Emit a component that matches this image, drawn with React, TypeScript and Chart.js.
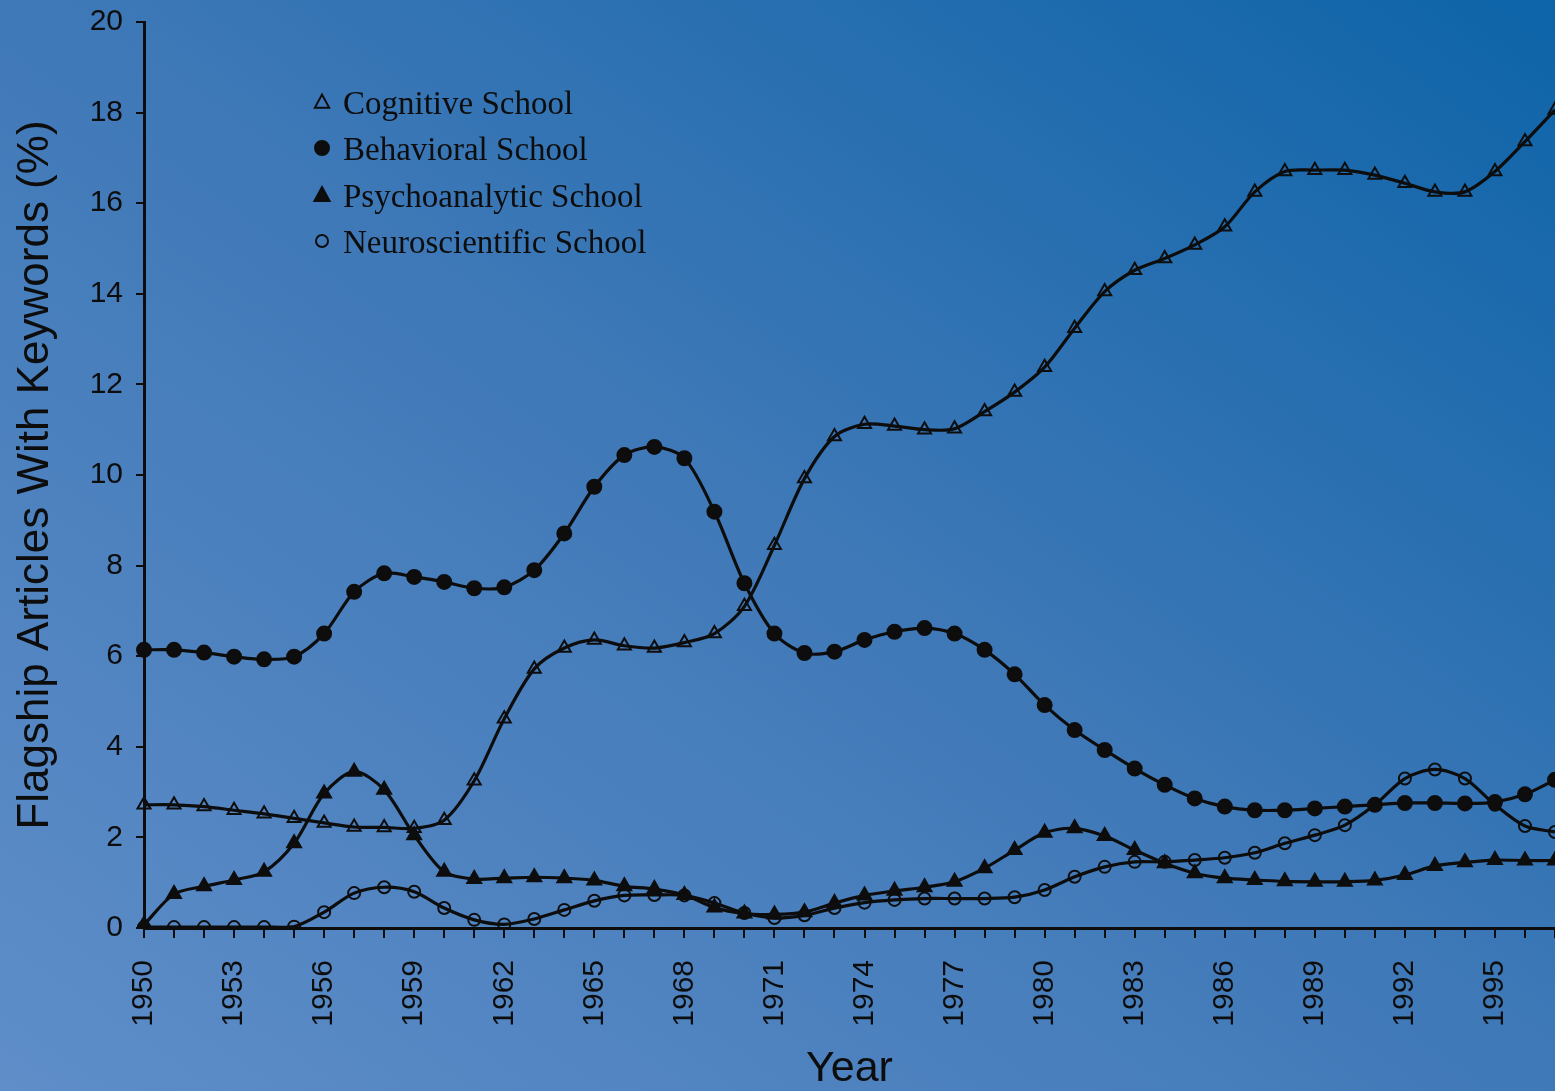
import React, { useEffect, useRef } from 'react';
import { Chart, registerables } from 'chart.js';

Chart.register(...registerables);

const years = [
  '1950', '1951', '1952', '1953', '1954', '1955', '1956', '1957', '1958', '1959',
  '1960', '1961', '1962', '1963', '1964', '1965', '1966', '1967', '1968', '1969',
  '1970', '1971', '1972', '1973', '1974', '1975', '1976', '1977', '1978', '1979',
  '1980', '1981', '1982', '1983', '1984', '1985', '1986', '1987', '1988', '1989',
  '1990', '1991', '1992', '1993', '1994', '1995', '1996', '1997',
];

const cognitive = [
  2.72, 2.72, 2.68, 2.6, 2.52, 2.42, 2.32, 2.23, 2.22, 2.2,
  2.38, 3.25, 4.62, 5.72, 6.18, 6.36, 6.23, 6.18, 6.3, 6.5,
  7.1, 8.45, 9.92, 10.85, 11.12, 11.08, 11.0, 11.02, 11.4, 11.83,
  12.38, 13.24, 14.05, 14.52, 14.78, 15.08, 15.48, 16.25, 16.7, 16.73,
  16.73, 16.62, 16.44, 16.25, 16.25, 16.7, 17.36, 18.06,
];

const behavioral = [
  6.14, 6.14, 6.08, 5.99, 5.93, 5.99, 6.5, 7.42, 7.83, 7.75,
  7.64, 7.5, 7.52, 7.9, 8.71, 9.74, 10.44, 10.62, 10.37, 9.19,
  7.61, 6.5, 6.07, 6.1, 6.36, 6.54, 6.62, 6.5, 6.14, 5.6,
  4.92, 4.37, 3.93, 3.52, 3.16, 2.86, 2.68, 2.6, 2.6, 2.64,
  2.68, 2.72, 2.76, 2.76, 2.75, 2.78, 2.95, 3.27,
];

const psychoanalytic = [
  0.07, 0.75, 0.92, 1.06, 1.24, 1.87, 2.97, 3.45, 3.05, 2.05,
  1.24, 1.08, 1.1, 1.12, 1.1, 1.05, 0.92, 0.86, 0.73, 0.45,
  0.32, 0.3, 0.35, 0.55, 0.72, 0.82, 0.9, 1.02, 1.32, 1.72,
  2.1, 2.2, 2.03, 1.72, 1.43, 1.21, 1.1, 1.06, 1.03, 1.02,
  1.02, 1.05, 1.17, 1.37, 1.45, 1.5, 1.49, 1.49,
];

const neuroscientific = [
  0.02, 0.02, 0.02, 0.02, 0.02, 0.03, 0.35, 0.77, 0.9, 0.8,
  0.44, 0.18, 0.08, 0.2, 0.4, 0.6, 0.72, 0.73, 0.72, 0.55,
  0.33, 0.22, 0.28, 0.44, 0.56, 0.62, 0.65, 0.65, 0.65, 0.68,
  0.84, 1.13, 1.35, 1.46, 1.46, 1.5, 1.55, 1.66, 1.87, 2.05,
  2.27, 2.72, 3.3, 3.5, 3.3, 2.72, 2.25, 2.12,
];

const seriesNames = [
  'Cognitive School',
  'Behavioral School',
  'Psychoanalytic School',
  'Neuroscientific School',
];

const yTickValues = [0, 2, 4, 6, 8, 10, 12, 14, 16, 18, 20];

const INK = '#0d0d0d';
const SANS = '"Liberation Sans", Arial, Helvetica, sans-serif';
const SERIF = '"Liberation Serif", "Times New Roman", serif';

type Marker = { style: 'triangle' | 'circle'; filled: boolean; r: number };
const markers: Marker[] = [
  { style: 'triangle', filled: false, r: 7.5 },
  { style: 'circle', filled: true, r: 7 },
  { style: 'triangle', filled: true, r: 8 },
  { style: 'circle', filled: false, r: 6 },
];

function drawMarker(ctx: CanvasRenderingContext2D, m: Marker, x: number, y: number) {
  ctx.save();
  ctx.beginPath();
  if (m.style === 'circle') {
    ctx.arc(x, y, m.r, 0, Math.PI * 2);
  } else {
    const r = m.r;
    ctx.moveTo(x, y - r);
    ctx.lineTo(x + r * 0.95, y + r * 0.75);
    ctx.lineTo(x - r * 0.95, y + r * 0.75);
    ctx.closePath();
  }
  if (m.filled) {
    ctx.fillStyle = INK;
    ctx.fill();
  }
  ctx.lineWidth = 2;
  ctx.strokeStyle = INK;
  ctx.stroke();
  ctx.restore();
}

const legendPlugin = {
  id: 'schoolLegend',
  afterDraw(chart: any) {
    const ctx: CanvasRenderingContext2D = chart.ctx;
    const baseX = 322;
    const textX = 343;
    const baselines = [114, 160, 207, 253];
    ctx.save();
    ctx.font = `33px ${SERIF}`;
    ctx.fillStyle = INK;
    ctx.textAlign = 'left';
    ctx.textBaseline = 'alphabetic';
    seriesNames.forEach((name, i) => {
      drawMarker(ctx, markers[i], baseX, baselines[i] - 12);
      ctx.fillText(name, textX, baselines[i]);
    });
    ctx.restore();
  },
};

export default function App() {
  const ref = useRef<HTMLCanvasElement | null>(null);

  useEffect(() => {
    document.body.style.margin = '0';
    const canvas = ref.current;
    if (!canvas) return;

    const seriesData = [cognitive, behavioral, psychoanalytic, neuroscientific];
    const datasets = seriesData.map((d, i) => {
      const m = markers[i];
      return {
        label: seriesNames[i],
        data: d,
        borderColor: INK,
        borderWidth: 3.2,
        tension: 0.3,
        pointStyle: m.style,
        pointRadius: m.r,
        pointBorderWidth: 2,
        pointBorderColor: INK,
        pointBackgroundColor: m.filled ? INK : 'rgba(0,0,0,0)',
        fill: false,
      };
    });

    const chart = new Chart(canvas, {
      type: 'line',
      data: { labels: years, datasets },
      options: {
        responsive: false,
        animation: false,
        layout: { autoPadding: false, padding: { top: 22, left: 0, right: 0, bottom: 0 } },
        plugins: {
          legend: { display: false },
          tooltip: { enabled: false },
        },
        scales: {
          x: {
            type: 'category',
            offset: false,
            grid: {
              drawOnChartArea: false,
              drawTicks: true,
              tickLength: 10,
              color: INK,
              lineWidth: 2,
            },
            border: { display: true, color: INK, width: 3 },
            ticks: {
              autoSkip: false,
              minRotation: 90,
              maxRotation: 90,
              padding: 22,
              color: INK,
              font: { family: SANS, size: 30 },
              callback: (_v: any, idx: number) => (idx % 3 === 0 ? years[idx] : ''),
            },
            title: {
              display: true,
              text: 'Year',
              color: INK,
              font: { family: SANS, size: 43, lineHeight: 1 },
              padding: { top: 0, bottom: 0 },
            },
            afterFit: (scale: any) => {
              scale.height = 163;
              scale.paddingLeft = 0;
              scale.paddingRight = 0;
            },
          },
          y: {
            type: 'linear',
            min: 0,
            max: 20,
            afterBuildTicks: (scale: any) => {
              scale.ticks = yTickValues.map((v) => ({ value: v }));
            },
            grid: {
              drawOnChartArea: false,
              drawTicks: true,
              tickLength: 8,
              color: INK,
              lineWidth: 2,
            },
            border: { display: true, color: INK, width: 3 },
            ticks: {
              padding: 13,
              color: INK,
              font: { family: SANS, size: 30 },
              callback: (v: any) => String(v),
            },
            title: {
              display: true,
              text: 'Flagship Articles With Keywords (%)',
              color: INK,
              font: { family: SANS, size: 44, lineHeight: 1 },
              padding: { top: 14, bottom: 0 },
            },
            afterFit: (scale: any) => {
              scale.width = 144;
              scale.paddingTop = 0;
              scale.paddingBottom = 0;
            },
          },
        },
      },
      plugins: [legendPlugin],
    } as any);

    return () => chart.destroy();
  }, []);

  return (
    <div
      style={{
        position: 'fixed',
        left: 0,
        top: 0,
        width: 1555,
        height: 1091,
        overflow: 'hidden',
        background: 'linear-gradient(to top right, #5f8ec9 0%, #4079b8 50%, #0d64a8 100%)',
      }}
    >
      <canvas ref={ref} width={1555} height={1091} style={{ display: 'block' }} />
    </div>
  );
}
